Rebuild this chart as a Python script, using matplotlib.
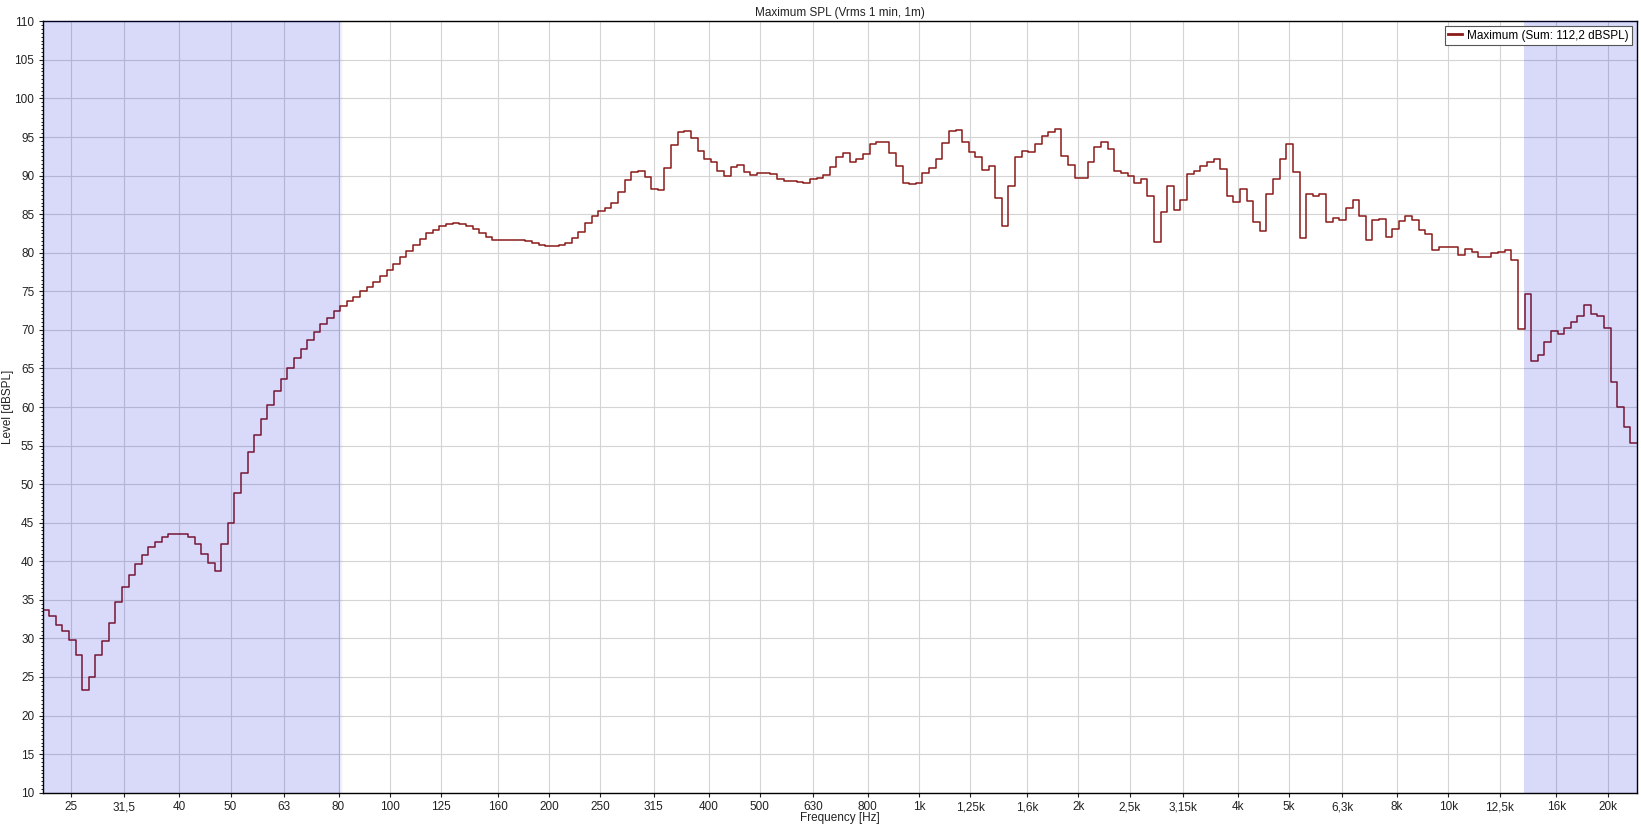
import numpy as np
import matplotlib
matplotlib.use('Agg')
import matplotlib.pyplot as plt
from matplotlib.ticker import FixedLocator, MultipleLocator, NullLocator, FixedFormatter

plt.rcParams['font.family'] = ['Liberation Sans', 'DejaVu Sans']

# 1/24 octave bands, index n -> 1000 * 10^(n/80) Hz
first_band = -132
last_band = 108

# levels in dBSPL, band by band
lev_22_60 = [33.7, 32.9, 31.8, 31.0, 29.8, 27.8, 23.3, 25.0, 27.8, 29.7,
             32.0, 34.7, 36.7, 38.2, 39.6, 40.8, 41.8, 42.5, 43.1, 43.5,
             43.5, 43.5, 43.1, 42.2, 41.0, 39.8, 38.7, 42.2, 44.9, 48.8,
             51.5, 54.2, 56.4, 58.4, 60.3]
lev_60_105 = [62.1, 63.6, 65.0, 66.3, 67.5, 68.7, 69.7, 70.7, 71.5, 72.4,
              73.1, 73.7, 74.3, 75.0, 75.6, 76.2, 77.0, 77.8, 78.5, 79.4,
              80.2]
lev_105_600 = [81.0, 81.8, 82.5, 83.0, 83.5, 83.7, 83.8, 83.7, 83.5, 83.1,
               82.5, 82.1, 81.7, 81.6, 81.6, 81.6, 81.6, 81.5, 81.3, 81.0,
               80.9, 80.9, 81.0, 81.3, 81.9, 82.7, 83.8, 84.8, 85.4, 85.8,
               86.5, 87.9, 89.4, 90.5, 90.6, 89.8, 88.2, 88.1, 91.0, 93.9,
               95.6, 95.8, 94.9, 93.2, 92.2, 91.8, 90.6, 90.0, 91.1, 91.4,
               90.4, 90.1, 90.3, 90.3, 90.2, 89.5, 89.3, 89.3, 89.2, 89.0]
lev_600_3k6 = [89.5, 89.7, 90.1, 91.1, 92.4, 92.9, 91.8, 92.2, 92.8, 94.1,
               94.4, 94.3, 92.9, 91.3, 89.0, 88.9, 89.1, 90.3, 91.0, 92.2,
               94.2, 95.8, 95.9, 94.4, 93.1, 92.4, 90.7, 91.3, 87.1, 83.5,
               88.7, 92.4, 93.2, 93.0, 94.1, 95.1, 95.6, 96.0, 92.5, 91.4,
               89.7, 89.7, 91.7, 93.7, 94.3, 93.4, 90.6, 90.3, 90.0, 89.0,
               89.6, 87.4, 81.4, 85.3, 88.6, 85.6, 86.8, 90.2, 90.6, 91.3,
               91.8, 92.1]
lev_3k6_22k = [90.9, 87.3, 86.6, 88.2, 86.7, 84.0, 82.8, 87.6, 89.6, 92.1,
               94.1, 90.4, 81.9, 87.6, 87.4, 87.6, 84.0, 84.5, 84.2, 85.8,
               86.8, 84.8, 81.6, 84.2, 84.4, 82.0, 83.1, 84.1, 84.8, 84.3,
               82.9, 82.4, 80.4, 80.7, 80.7, 80.8, 79.7, 80.5, 80.1, 79.5,
               79.5, 79.9, 80.1, 80.4, 79.0, 70.1, 74.6, 65.9, 66.7, 68.4,
               69.8, 69.4, 70.3, 71.0, 71.8, 73.2, 72.0, 71.8, 70.3, 63.2,
               60.0, 57.4, 55.3]

tick_freqs = [25, 31.5, 40, 50, 63, 80, 100, 125, 160, 200, 250, 315, 400, 500,
              630, 800, 1000, 1250, 1600, 2000, 2500, 3150, 4000, 5000, 6300,
              8000, 10000, 12500, 16000, 20000]
tick_labels = ['25', '31,5', '40', '50', '63', '80', '100', '125', '160', '200',
               '250', '315', '400', '500', '630', '800', '1k', '1,25k', '1,6k',
               '2k', '2,5k', '3,15k', '4k', '5k', '6,3k', '8k', '10k', '12,5k',
               '16k', '20k']

shade_low = (22.0, 80.6)
shade_high = (13920, 23000)

levels = np.array(lev_22_60 + lev_60_105 + lev_105_600 + lev_600_3k6 + lev_3k6_22k)
bands = np.arange(first_band, last_band + 1)
edges = 1000 * 10 ** ((np.append(bands, last_band + 1) - 0.5) / 80)

fig = plt.figure(figsize=(16.41, 8.25), dpi=100)
ax = fig.add_axes([42.5 / 1641, 1 - 792.7 / 825, (1637 - 42.5) / 1641, (792.7 - 21.3) / 825])

ax.step(edges, np.append(levels, levels[-1]), where='post', color='#8b1a1a',
        lw=1.1, zorder=2, label='Maximum (Sum: 112,2 dBSPL)')

for lo, hi in (shade_low, shade_high):
    ax.axvspan(lo, hi, color='#0000de', alpha=0.15, lw=0, zorder=3)
ax.axvline(shade_low[1], color='#0000de', alpha=0.06, lw=2.5, zorder=3)

ax.set_xscale('log')
ax.set_xlim(edges[0], edges[-1])
ax.set_ylim(10, 110)

ax.xaxis.set_major_locator(FixedLocator(tick_freqs))
ax.xaxis.set_major_formatter(FixedFormatter(tick_labels))
ax.xaxis.set_minor_locator(NullLocator())
ax.yaxis.set_major_locator(MultipleLocator(5))
ax.yaxis.set_minor_locator(MultipleLocator(0.5))

ax.tick_params(axis='both', which='major', labelsize=8.5, colors='#222222',
               length=3, width=0.8, pad=3)
ax.tick_params(axis='x', which='major', pad=3)
ax.tick_params(axis='y', which='minor', length=1.5, width=0.6)

ax.grid(True, which='major', color='#d4d4d4', lw=0.8)
ax.set_axisbelow(True)
for s in ax.spines.values():
    s.set_color('black')
    s.set_linewidth(1.0)

ax.set_title('Maximum SPL (Vrms 1 min, 1m)', fontsize=8.5, pad=4, color='#222222')
ax.set_xlabel('Frequency [Hz]', fontsize=8.5, labelpad=-1, color='#222222')
ax.set_ylabel('Level [dBSPL]', fontsize=8.5, labelpad=0, color='#222222')

leg = ax.legend(loc='upper right', fontsize=8.5, frameon=True, fancybox=False,
                edgecolor='#555555', framealpha=1, handlelength=1.2,
                handletextpad=0.4, borderpad=0.3, borderaxespad=0.4)
leg.get_frame().set_linewidth(0.8)
leg.get_lines()[0].set_linewidth(2)
leg.set_zorder(10)

fig.savefig('out.png', dpi=100)
